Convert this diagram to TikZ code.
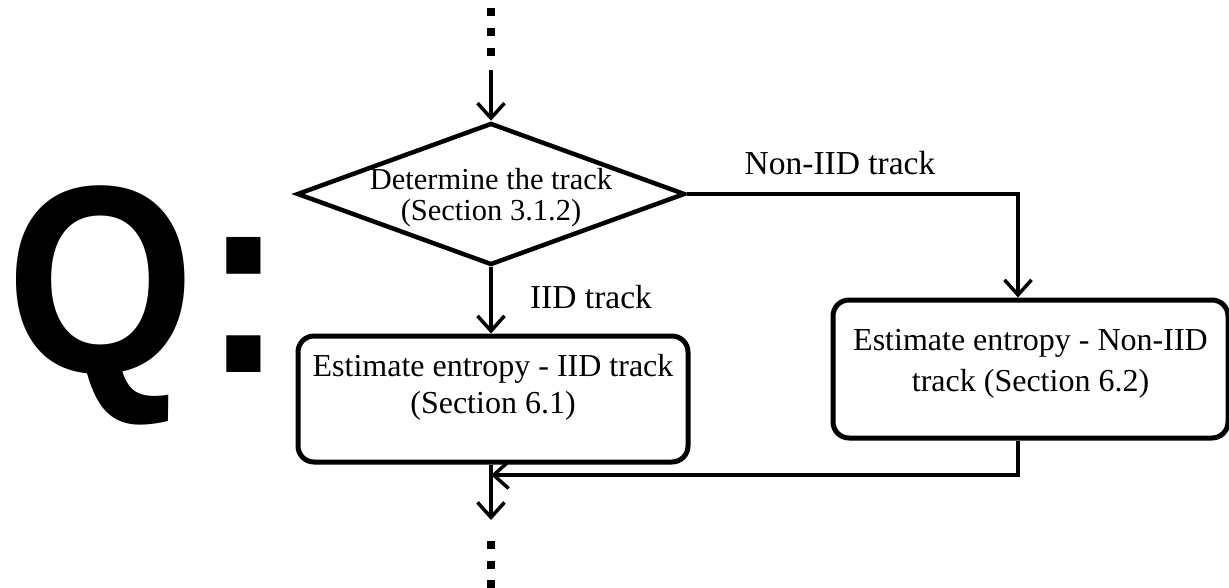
\documentclass[tikz,border=0pt]{standalone}
\usepackage{fontspec}
\setmainfont{Liberation Serif}
\newfontfamily\qfont{Liberation Sans}
\usetikzlibrary{arrows.meta,shapes.geometric}
\tikzset{
  every node/.style={font=\fontsize{33.5}{33.5}\selectfont},
  ln/.style={line width=3.5pt},
  arr/.style={ln,-{Straight Barb[length=15pt,width=27pt,line width=3.5pt]}},
  decbox/.style={draw,diamond,shape aspect=2.73,line width=4.5pt,minimum width=388pt,minimum height=142pt,
    inner sep=0pt,font=\fontsize{30.5}{31}\selectfont},
  procbox/.style={draw,rounded corners=16pt,line width=5pt,inner sep=0pt},
  dotsq/.style={fill=black},
}
\begin{document}
\begin{tikzpicture}[x=1pt,y=-1pt]
\useasboundingbox (0,0) rectangle (1229,588);
% big Q:
\node[anchor=base west,inner sep=0pt,font=\qfont\bfseries\fontsize{250}{250}\selectfont] (q) at (6,372) {\scalebox{0.97}[1.07]{Q\hspace{9pt}:}};
% top dots
\foreach \yy in {12,32,52} \fill[dotsq] (487,\yy-4) rectangle (495,\yy+4);
\coordinate (top) at (491,70);
% decision
\node[decbox] (d) at (491,194) {\raisebox{-11.5pt}[0pt][0pt]{\begin{tabular}{@{}c@{}}Determine the track\\(Section 3.1.2)\end{tabular}}};
% boxes
\node[procbox,minimum width=390pt,minimum height=126pt] (b1) at (493,399) {\raisebox{5pt}[0pt][0pt]{\fontsize{32}{37}\selectfont\begin{tabular}{@{}c@{}}Estimate entropy - IID track\\(Section 6.1)\end{tabular}}};
\node[procbox,minimum width=395pt,minimum height=138pt] (b2) at (1030.5,369) {\raisebox{0pt}[0pt][0pt]{\fontsize{32}{41}\selectfont\begin{tabular}{@{}c@{}}Estimate entropy - Non-IID\\track (Section 6.2)\end{tabular}}};
% labels
\node (lnon) at (840,163) {Non-IID track};
\node (liid) at (591,297) {IID track};
% connectors
\draw[arr] (top) -- (d.north);
\draw[arr] (d.east) -- ([xshift=-12.5pt]b2.north |- d.east) -- ([xshift=-12.5pt]b2.north);
\draw[arr] (d.south) -- (d.south |- b1.north);
\coordinate (m) at (491,475);
\coordinate (bot) at (491,520);
\draw[arr] ([xshift=-12.5pt]b2.south) -- ([xshift=-12.5pt]b2.south |- m) -- (m);
\draw[arr] (b1.south -| m) -- (bot);
% bottom dots
\foreach \yy in {545,565,584} \fill[dotsq] (487,\yy-4) rectangle (495,\yy+4);
\end{tikzpicture}
\end{document}
